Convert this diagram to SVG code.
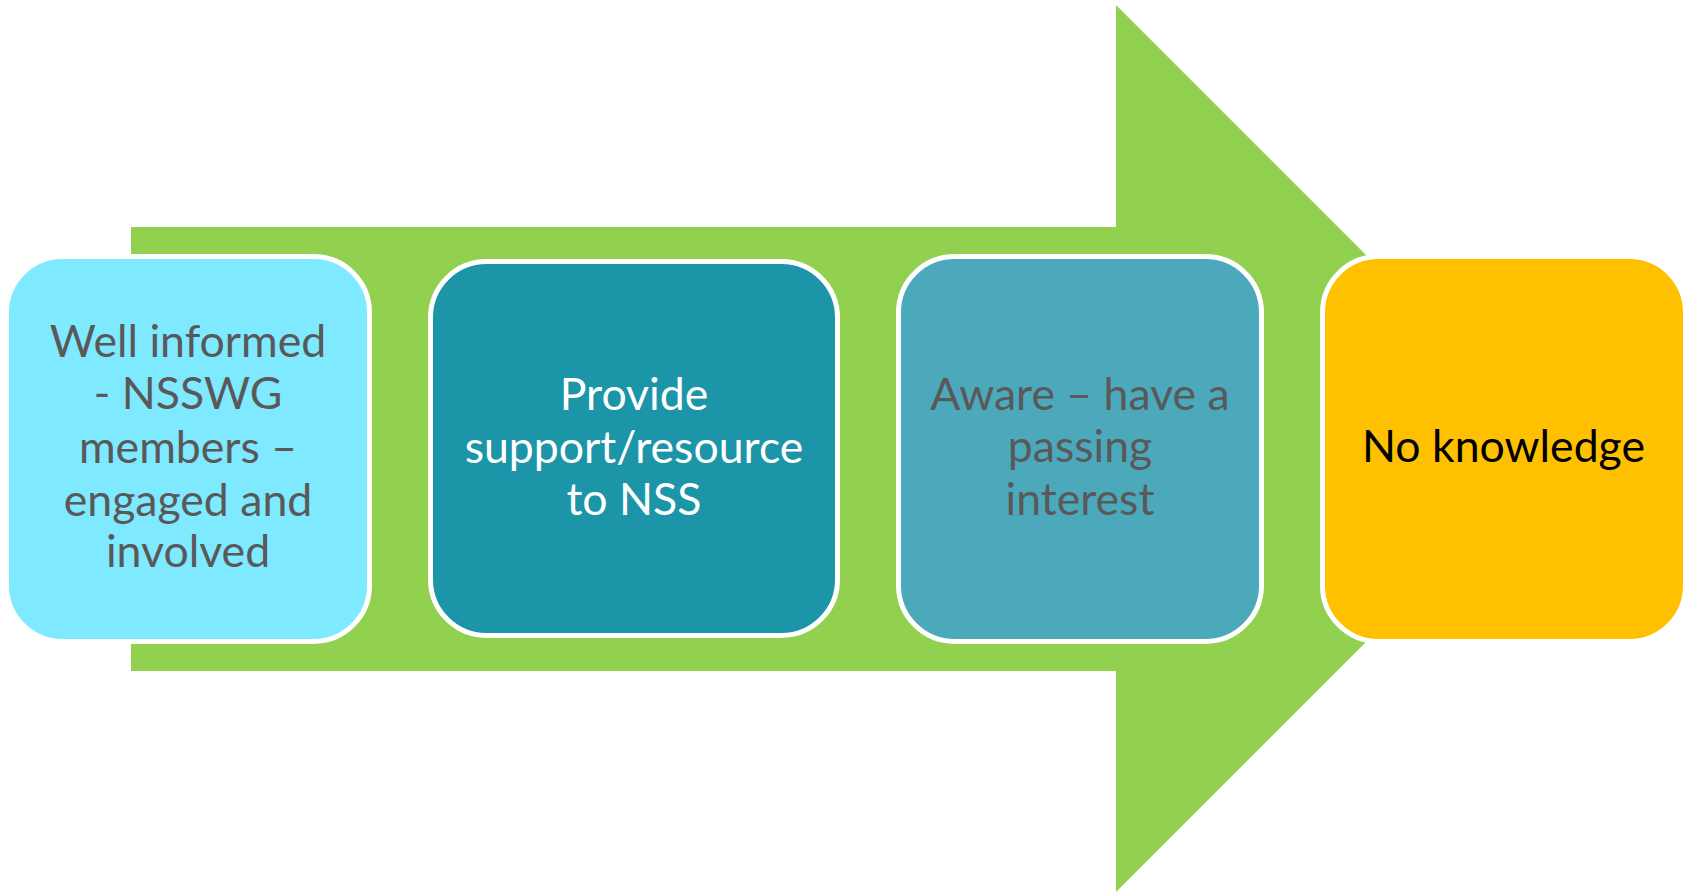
<svg xmlns="http://www.w3.org/2000/svg" width="1684" height="893" viewBox="0 0 1684 893">
<style>
.box{stroke:#FFFFFF;stroke-width:5}
.t{font-family:Lato,"Open Sans","Liberation Sans",sans-serif;font-size:44.6px;text-anchor:middle}
.grey{fill:#595959}
.white{fill:#FFFFFF}
.black{fill:#000000}
</style>
<g id="arrow">
<polygon points="131,227 1116,227 1116,5 1559.5,448.5 1116,892 1116,671 131,671" fill="#92D050"/>
</g>
<g id="connectors"></g>
<g id="node1">
<rect class="box" x="6.5" y="256.5" width="363" height="385" rx="56" fill="#7FE9FF"/>
<text class="t grey" x="188" y="357">Well informed</text>
<text class="t grey" x="188" y="409">- NSSWG</text>
<text class="t grey" x="188" y="463">members –</text>
<text class="t grey" x="188" y="516">engaged and</text>
<text class="t grey" x="188" y="567">involved</text>
</g>
<g id="node2">
<rect class="box" x="430.5" y="261.5" width="407" height="374" rx="56" fill="#1C95A8"/>
<text class="t white" x="634" y="410">Provide</text>
<text class="t white" x="634" y="463">support/resource</text>
<text class="t white" x="634" y="515">to NSS</text>
</g>
<g id="node3">
<rect class="box" x="898.5" y="256.5" width="363" height="385" rx="56" fill="#4BA9BB"/>
<text class="t grey" x="1080" y="410">Aware – have a</text>
<text class="t grey" x="1080" y="462">passing</text>
<text class="t grey" x="1080" y="515">interest</text>
</g>
<g id="node4">
<rect class="box" x="1322.5" y="256.5" width="363" height="385" rx="56" fill="#FFC000"/>
<text class="t black" x="1503.5" y="462">No knowledge</text>
</g>
</svg>
